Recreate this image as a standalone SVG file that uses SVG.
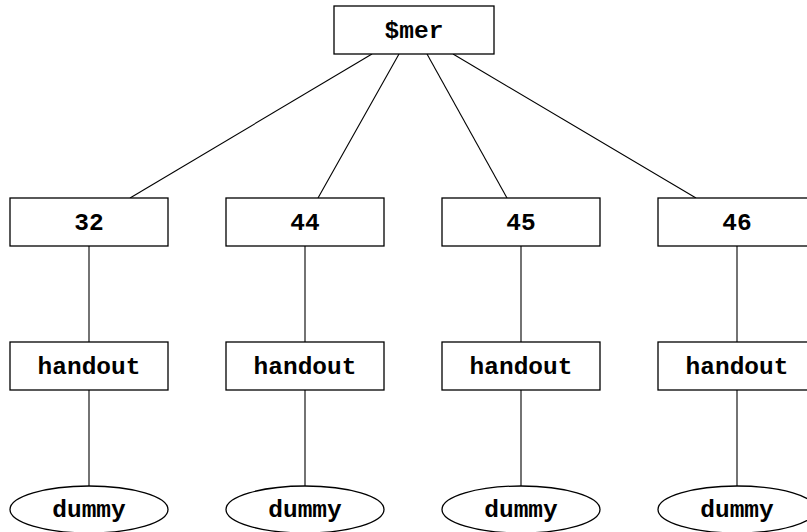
<svg xmlns="http://www.w3.org/2000/svg" width="807" height="532" viewBox="0 0 807 532">
<style>
.n{fill:#fff;stroke:#000;stroke-width:1.3}
.t{font-family:"Liberation Mono","Courier New",monospace;font-weight:bold;font-size:24.5px;text-anchor:middle;dominant-baseline:central;fill:#000}
.e{stroke:#000;stroke-width:1.1;fill:none}
</style>
<rect width="807" height="532" fill="#fff"/>
<g id="edges">
<line class="e" x1="372" y1="54" x2="130" y2="198"/>
<line class="e" x1="399" y1="54" x2="318" y2="198"/>
<line class="e" x1="427" y1="54" x2="507" y2="198"/>
<line class="e" x1="453" y1="54" x2="696" y2="198"/>
<line class="e" x1="89" y1="246" x2="89" y2="342"/>
<line class="e" x1="305" y1="246" x2="305" y2="342"/>
<line class="e" x1="521" y1="246" x2="521" y2="342"/>
<line class="e" x1="737" y1="246" x2="737" y2="342"/>
<line class="e" x1="89" y1="390" x2="89" y2="486"/>
<line class="e" x1="305" y1="390" x2="305" y2="486"/>
<line class="e" x1="521" y1="390" x2="521" y2="486"/>
<line class="e" x1="737" y1="390" x2="737" y2="486"/>
</g>
<g id="mer"><rect class="n" x="334" y="6" width="160" height="48"/><text class="t" x="414" y="31">$mer</text></g>
<g id="n32"><rect class="n" x="10" y="198" width="158" height="48"/><text class="t" x="89" y="223">32</text></g>
<g id="n44"><rect class="n" x="226" y="198" width="158" height="48"/><text class="t" x="305" y="223">44</text></g>
<g id="n45"><rect class="n" x="442" y="198" width="158" height="48"/><text class="t" x="521" y="223">45</text></g>
<g id="n46"><rect class="n" x="658" y="198" width="158" height="48"/><text class="t" x="737" y="223">46</text></g>
<g id="h32"><rect class="n" x="10" y="342" width="158" height="48"/><text class="t" x="89" y="367">handout</text></g>
<g id="h44"><rect class="n" x="226" y="342" width="158" height="48"/><text class="t" x="305" y="367">handout</text></g>
<g id="h45"><rect class="n" x="442" y="342" width="158" height="48"/><text class="t" x="521" y="367">handout</text></g>
<g id="h46"><rect class="n" x="658" y="342" width="158" height="48"/><text class="t" x="737" y="367">handout</text></g>
<g id="d32"><ellipse class="n" cx="89" cy="509.5" rx="79" ry="23.5"/><text class="t" x="89" y="510">dummy</text></g>
<g id="d44"><ellipse class="n" cx="305" cy="509.5" rx="79" ry="23.5"/><text class="t" x="305" y="510">dummy</text></g>
<g id="d45"><ellipse class="n" cx="521" cy="509.5" rx="79" ry="23.5"/><text class="t" x="521" y="510">dummy</text></g>
<g id="d46"><ellipse class="n" cx="737" cy="509.5" rx="79" ry="23.5"/><text class="t" x="737" y="510">dummy</text></g>
</svg>
